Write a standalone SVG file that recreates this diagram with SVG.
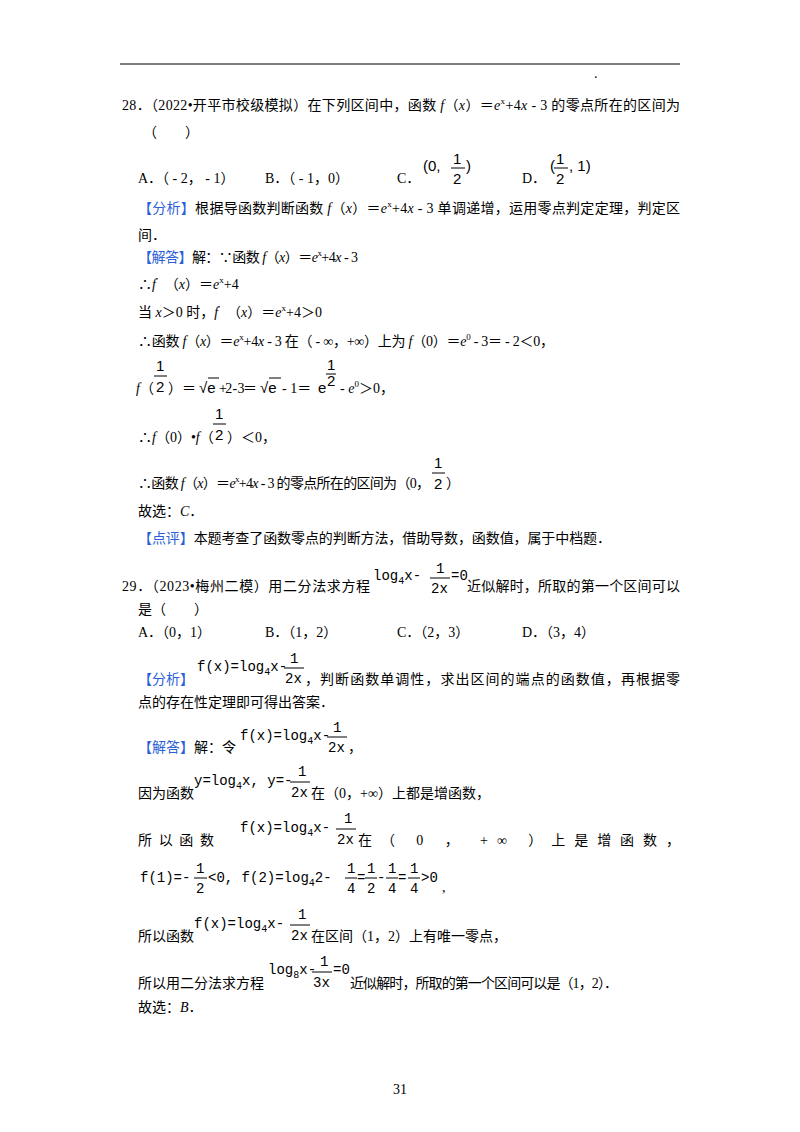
<svg xmlns="http://www.w3.org/2000/svg" width="800" height="1132" viewBox="0 0 800 1132">
<style>
text{font-family:"Liberation Serif","Noto Sans CJK SC",serif;font-size:14px;fill:#000}
.b{fill:#2b5fd9}
.m{font-family:"Liberation Mono","Noto Sans CJK SC",monospace;font-size:14px}
.s{font-family:"Liberation Sans",sans-serif;font-size:15px}
.i{font-style:italic}
line{stroke:#000;stroke-width:1}
</style>
<rect width="800" height="1132" fill="#fff"/>
<line x1="120" y1="64" x2="680" y2="64" stroke-width="1.2"/>
<text x="594" y="78" font-size="6">.</text>

<text x="122" y="110" textLength="558" lengthAdjust="spacing">28．（2022•开平市校级模拟）在下列区间中，函数 <tspan class="i">f</tspan>（<tspan class="i">x</tspan>）＝<tspan class="i">e</tspan><tspan font-size="9" dy="-6">x</tspan><tspan dy="6">+4</tspan><tspan class="i">x</tspan> - 3 的零点所在的区间为</text>
<text x="143" y="137">（　　）</text>
<text x="138" y="183">A．（ - 2， - 1）</text>
<text x="265" y="183">B．（ - 1，0）</text>
<text x="397" y="183">C．</text>
<text x="423" y="171" class="s">(0,</text>
<text x="453" y="164" class="s">1</text><line x1="451" y1="168" x2="465" y2="168"/><text x="453" y="184" class="s">2</text>
<text x="466" y="171" class="s">)</text>
<text x="522" y="183">D．</text>
<text x="550" y="171" class="s">(</text>
<text x="556" y="164" class="s">1</text><line x1="554" y1="168" x2="568" y2="168"/><text x="556" y="184" class="s">2</text>
<text x="569" y="171" class="s">,  1)</text>

<text x="138" y="213" textLength="542" lengthAdjust="spacing"><tspan class="b">【分析】</tspan>根据导函数判断函数 <tspan class="i">f</tspan>（<tspan class="i">x</tspan>）＝<tspan class="i">e</tspan><tspan font-size="9" dy="-6">x</tspan><tspan dy="6">+4</tspan><tspan class="i">x</tspan> - 3 单调递增，运用零点判定定理，判定区</text>
<text x="138" y="240">间．</text>
<text x="138" y="262" textLength="220" lengthAdjust="spacing"><tspan class="b">【解答】</tspan>解：∵函数 <tspan class="i">f</tspan>（<tspan class="i">x</tspan>）＝<tspan class="i">e</tspan><tspan font-size="9" dy="-6">x</tspan><tspan dy="6">+4</tspan><tspan class="i">x</tspan> - 3</text>
<text x="138" y="289">∴<tspan class="i">f</tspan><tspan font-size="9" dy="-5">′</tspan><tspan dy="5">　（</tspan><tspan class="i">x</tspan>）＝<tspan class="i">e</tspan><tspan font-size="9" dy="-6">x</tspan><tspan dy="6">+4</tspan></text>
<text x="138" y="317">当 <tspan class="i">x</tspan>＞0 时，<tspan class="i">f</tspan><tspan font-size="9" dy="-5">′</tspan><tspan dy="5">　（</tspan><tspan class="i">x</tspan>）＝<tspan class="i">e</tspan><tspan font-size="9" dy="-6">x</tspan><tspan dy="6">+4＞0</tspan></text>
<text x="138" y="346" textLength="416" lengthAdjust="spacing">∴函数 <tspan class="i">f</tspan>（<tspan class="i">x</tspan>）＝<tspan class="i">e</tspan><tspan font-size="9" dy="-6">x</tspan><tspan dy="6">+4</tspan><tspan class="i">x</tspan> - 3 在（ - ∞，+∞）上为 <tspan class="i">f</tspan>（0）＝<tspan class="i">e</tspan><tspan font-size="9" dy="-6">0</tspan><tspan dy="6"> - 3＝ - 2＜0，</tspan></text>

<text x="136" y="393"><tspan class="i">f</tspan>（</text>
<text x="156" y="371" class="s">1</text><line x1="154" y1="376" x2="167" y2="376"/><text x="156" y="392" class="s">2</text>
<text x="168" y="393">）＝</text>
<text x="199" y="393" class="s">√e</text><line x1="208" y1="378" x2="219" y2="378"/>
<text x="219" y="393" textLength="38" lengthAdjust="spacing">+2 - 3＝</text>
<text x="260" y="393" class="s">√e</text><line x1="269" y1="378" x2="281" y2="378"/>
<text x="282" y="393"> - 1＝</text>
<text x="318" y="393" class="s">e</text>
<text x="327" y="370" font-size="11" class="s">1</text><line x1="326" y1="374" x2="336" y2="374"/><text x="327" y="386" font-size="11" class="s">2</text>
<text x="340" y="393"> - <tspan class="i">e</tspan><tspan font-size="9" dy="-6">0</tspan><tspan dy="6">＞0，</tspan></text>

<text x="138" y="442">∴<tspan class="i">f</tspan>（0）•<tspan class="i">f</tspan>（</text>
<text x="215" y="419" class="s">1</text><line x1="213" y1="424" x2="226" y2="424"/><text x="215" y="440" class="s">2</text>
<text x="227" y="442">）＜0，</text>

<text x="138" y="488" textLength="292" lengthAdjust="spacing">∴函数 <tspan class="i">f</tspan>（<tspan class="i">x</tspan>）＝<tspan class="i">e</tspan><tspan font-size="9" dy="-6">x</tspan><tspan dy="6">+4</tspan><tspan class="i">x</tspan> - 3 的零点所在的区间为（0，</text>
<text x="434" y="468" class="s">1</text><line x1="432" y1="473" x2="445" y2="473"/><text x="434" y="489" class="s">2</text>
<text x="446" y="488">）</text>
<text x="138" y="516">故选：<tspan class="i">C</tspan>．</text>
<text x="138" y="543" textLength="473" lengthAdjust="spacing"><tspan class="b">【点评】</tspan>本题考查了函数零点的判断方法，借助导数，函数值，属于中档题．</text>

<text x="122" y="591" textLength="248" lengthAdjust="spacing">29．（2023•梅州二模）用二分法求方程</text>
<text x="373" y="580" class="m">log<tspan font-size="10" dy="4">4</tspan><tspan dy="-4">x-</tspan></text>
<text x="436" y="573" class="m">1</text><line x1="430" y1="578" x2="450" y2="578"/><text x="431" y="593" class="m">2x</text>
<text x="451" y="580" class="m">=0</text>
<text x="467" y="591" textLength="213" lengthAdjust="spacing">近似解时，所取的第一个区间可以</text>
<text x="138" y="614">是（　　）</text>
<text x="138" y="637">A．（0，1）</text>
<text x="265" y="637">B．（1，2）</text>
<text x="397" y="637">C．（2，3）</text>
<text x="522" y="637">D．（3，4）</text>

<text x="138" y="684"><tspan class="b">【分析】</tspan></text>
<text x="197" y="671" class="m">f(x)=log<tspan font-size="10" dy="4">4</tspan><tspan dy="-4">x-</tspan></text>
<text x="290" y="663" class="m">1</text><line x1="284" y1="668" x2="304" y2="668"/><text x="285" y="683" class="m">2x</text>
<text x="305" y="684" textLength="375" lengthAdjust="spacing">，判断函数单调性，求出区间的端点的函数值，再根据零</text>
<text x="138" y="707">点的存在性定理即可得出答案．</text>

<text x="138" y="752"><tspan class="b">【解答】</tspan>解：令</text>
<text x="240" y="740" class="m">f(x)=log<tspan font-size="10" dy="4">4</tspan><tspan dy="-4">x-</tspan></text>
<text x="333" y="732" class="m">1</text><line x1="327" y1="737" x2="347" y2="737"/><text x="328" y="752" class="m">2x</text>
<text x="348" y="752">，</text>

<text x="138" y="798">因为函数</text>
<text x="194" y="785" class="m">y=log<tspan font-size="10" dy="4">4</tspan><tspan dy="-4">x,  y=-</tspan></text>
<text x="298" y="776" class="m">1</text><line x1="290" y1="782" x2="310" y2="782"/><text x="291" y="797" class="m">2x</text>
<text x="311" y="798">在（0，+∞）上都是增函数，</text>

<text x="138" y="845" textLength="76" lengthAdjust="spacing">所以函数</text>
<text x="240" y="832" class="m">f(x)=log<tspan font-size="10" dy="4">4</tspan><tspan dy="-4">x-</tspan></text>
<text x="344" y="823" class="m">1</text><line x1="336" y1="829" x2="356" y2="829"/><text x="337" y="844" class="m">2x</text>
<text x="358" y="845" textLength="322" lengthAdjust="spacing">在（ 0 ， +∞ ）上是增函数，</text>

<text x="140" y="882" class="m">f(1)=-</text>
<text x="196" y="873" class="m">1</text><line x1="194" y1="878" x2="207" y2="878"/><text x="196" y="893" class="m">2</text>
<text x="208" y="882" class="m">&lt;0, f(2)=log<tspan font-size="10" dy="4">4</tspan><tspan dy="-4">2-</tspan></text>
<text x="347" y="873" class="m">1</text><line x1="345" y1="878" x2="357" y2="878"/><text x="347" y="893" class="m">4</text>
<text x="357" y="882" class="m">=</text>
<text x="367" y="873" class="m">1</text><line x1="365" y1="878" x2="377" y2="878"/><text x="367" y="893" class="m">2</text>
<text x="377" y="882" class="m">-</text>
<text x="388" y="873" class="m">1</text><line x1="386" y1="878" x2="398" y2="878"/><text x="388" y="893" class="m">4</text>
<text x="398" y="882" class="m">=</text>
<text x="410" y="873" class="m">1</text><line x1="408" y1="878" x2="420" y2="878"/><text x="410" y="893" class="m">4</text>
<text x="421" y="882" class="m">&gt;0</text>
<text x="442" y="892">,</text>

<text x="138" y="941">所以函数</text>
<text x="194" y="928" class="m">f(x)=log<tspan font-size="10" dy="4">4</tspan><tspan dy="-4">x-</tspan></text>
<text x="298" y="919" class="m">1</text><line x1="290" y1="925" x2="310" y2="925"/><text x="291" y="940" class="m">2x</text>
<text x="311" y="941">在区间（1，2）上有唯一零点，</text>

<text x="138" y="988">所以用二分法求方程</text>
<text x="268" y="974" class="m">log<tspan font-size="10" dy="4">8</tspan><tspan dy="-4">x-</tspan></text>
<text x="320" y="966" class="m">1</text><line x1="312" y1="972" x2="332" y2="972"/><text x="313" y="987" class="m">3x</text>
<text x="333" y="974" class="m">=0</text>
<text x="350" y="988" textLength="268" lengthAdjust="spacing">近似解时，所取的第一个区间可以是（1，2）．</text>
<text x="138" y="1012">故选：<tspan class="i">B</tspan>．</text>

<text x="400" y="1094" text-anchor="middle" font-size="11">31</text>
</svg>
